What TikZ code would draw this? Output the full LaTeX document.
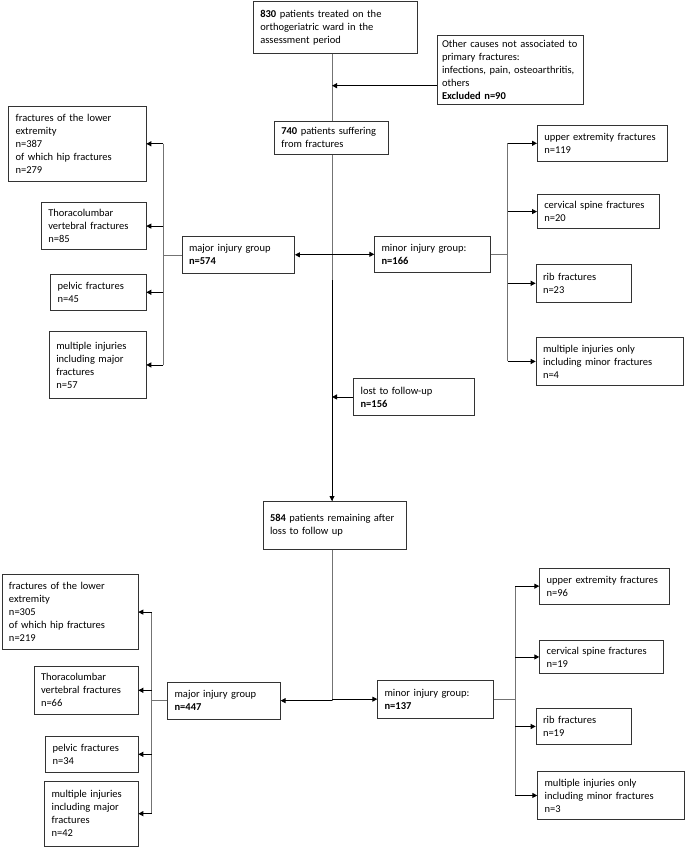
\documentclass[tikz,border=0pt]{standalone}
\usepackage{fontspec}
\setmainfont{Carlito}
\usepackage{tikz}
\usetikzlibrary{arrows.meta}
\tikzset{
  fbox/.style={draw=black!80, line width=0.6pt, anchor=north west, align=left, inner xsep=7pt, inner ysep=2pt, font=\fontsize{10.5}{13}\selectfont},
  plain/.style={draw=black!55, line width=0.6pt},
  arr/.style={-{Triangle[length=5pt,width=5pt]}, line width=0.9pt},
}

\begin{document}
\begin{tikzpicture}[x=1pt, y=-1pt]
  \useasboundingbox (0,0) rectangle (685,848);

  % screening part
  \node[fbox, text width=150pt, minimum height=52pt] (top) at (253,1) {\textbf{830} patients treated on the\\orthogeriatric ward in the\\assessment period};
  \node[fbox, inner xsep=5pt, text width=136pt, minimum height=69pt] (excl) at (436.7,35) {Other causes not associated to\\primary fractures:\\infections, pain, osteoarthritis,\\others\\\textbf{Excluded n=90}};
  \node[fbox, text width=100pt, minimum height=33pt] (n740) at (274,121) {\textbf{740} patients suffering\\from fractures};
  \node[fbox, text width=98.6pt, minimum height=37pt] (major1) at (181.7,236) {major injury group\\\textbf{n=574}};
  \node[fbox, text width=102pt, minimum height=36pt] (minor1) at (374.3,236) {minor injury group:\\\textbf{n=166}};
  \node[fbox, text width=107pt, minimum height=36.7pt] (lost) at (353.3,378.3) {lost to follow-up\\\textbf{n=156}};

  % first follow-up, major
  \node[fbox, text width=123.4pt, minimum height=75pt] (low1) at (8.3,106) {fractures of the lower\\extremity\\n=387\\of which hip fractures\\n=279};
  \node[fbox, text width=90.7pt, minimum height=47pt] (thor1) at (41,202.3) {Thoracolumbar\\vertebral fractures\\n=85};
  \node[fbox, text width=81.4pt, minimum height=36pt] (pelv1) at (50.3,274) {pelvic fractures\\n=45};
  \node[fbox, text width=82.7pt, minimum height=67.3pt] (mult1) at (49,331) {multiple injuries\\including major\\fractures\\n=57};

  % first follow-up, minor
  \node[fbox, text width=116.3pt, minimum height=36pt] (up1) at (537,125) {upper extremity fractures\\n=119};
  \node[fbox, text width=108pt, minimum height=34pt] (cerv1) at (537,194.3) {cervical spine fractures\\n=20};
  \node[fbox, text width=81pt, minimum height=37.4pt] (rib1) at (535.7,264.3) {rib fractures\\n=23};
  \node[fbox, text width=133.6pt, minimum height=47.7pt] (mmin1) at (535.7,337.3) {multiple injuries only\\including minor fractures\\n=4};

  % after loss to follow-up
  \node[fbox, text width=129pt, minimum height=48pt] (n584) at (262.7,501) {\textbf{584} patients remaining after\\loss to follow up};
  \node[fbox, text width=98.7pt, minimum height=37.3pt] (major2) at (167.3,681.7) {major injury group\\\textbf{n=447}};
  \node[fbox, text width=102pt, minimum height=37.7pt] (minor2) at (377.3,680) {minor injury group:\\\textbf{n=137}};

  \node[fbox, text width=122pt, minimum height=75pt] (low2) at (1.7,574.3) {fractures of the lower\\extremity\\n=305\\of which hip fractures\\n=219};
  \node[fbox, text width=90pt, minimum height=48pt] (thor2) at (33.7,666) {Thoracolumbar\\vertebral fractures\\n=66};
  \node[fbox, text width=78.4pt, minimum height=36.6pt] (pelv2) at (45.3,735.7) {pelvic fractures\\n=34};
  \node[fbox, text width=79.4pt, minimum height=65.3pt] (mult2) at (44.3,780.7) {multiple injuries\\including major\\fractures\\n=42};

  \node[fbox, text width=116pt, minimum height=36.3pt] (up2) at (539.3,567.7) {upper extremity fractures\\n=96};
  \node[fbox, text width=109.4pt, minimum height=33.3pt] (cerv2) at (539.3,640) {cervical spine fractures\\n=19};
  \node[fbox, text width=81.3pt, minimum height=35.7pt] (rib2) at (535.7,708.3) {rib fractures\\n=19};
  \node[fbox, text width=132.7pt, minimum height=48.3pt] (mmin2) at (537.3,771) {multiple injuries only\\including minor fractures\\n=3};

  % junctions
  \coordinate (ax) at (332,0);
  \coordinate (exA) at (332,85.7);
  \coordinate (split) at (332,280);
  \coordinate (bA) at (163.3,0);
  \coordinate (bB) at (507.7,0);
  \coordinate (bC) at (151.7,0);
  \coordinate (bD) at (515,0);

  % main line
  \draw[plain] (top.south -| ax) -- (ax |- n740.north);
  \draw[arr] (excl.west |- exA) -- (exA);
  \draw[plain] (n740.south -| ax) -- (ax |- n584.north);
  \draw[arr] (split) -- (ax |- n584.north);
  \draw[arr] (ax |- major1.east) -- (major1.east);
  \draw[arr] (ax |- minor1.west) -- (minor1.west);
  \draw[arr] (lost.west) -- (ax |- lost.west);
  \draw[plain] (n584.south -| ax) -- (ax |- major2.east);
  \draw[arr] (ax |- major2.east) -- (major2.east);
  \draw[arr] (ax |- minor2.west) -- (minor2.west);

  % branches
  \draw[plain] (major1.west) -- (bA |- major1.west);
  \draw[plain] (bA |- low1.east) -- (bA |- mult1.east);
  \foreach \b in {low1,thor1,pelv1,mult1}
    \draw[arr] (bA |- \b.east) -- (\b.east);

  \draw[plain] (minor1.east) -- (bB |- minor1.east);
  \draw[plain] (bB |- up1.west) -- (bB |- mmin1.west);
  \foreach \b in {up1,cerv1,rib1,mmin1}
    \draw[arr] (bB |- \b.west) -- (\b.west);

  \draw[plain] (major2.west) -- (bC |- major2.west);
  \draw[plain] (bC |- low2.east) -- (bC |- mult2.east);
  \foreach \b in {low2,thor2,pelv2,mult2}
    \draw[arr] (bC |- \b.east) -- (\b.east);

  \draw[plain] (minor2.east) -- (bD |- minor2.east);
  \draw[plain] (bD |- up2.west) -- (bD |- mmin2.west);
  \foreach \b in {up2,cerv2,rib2,mmin2}
    \draw[arr] (bD |- \b.west) -- (\b.west);
\end{tikzpicture}
\end{document}
